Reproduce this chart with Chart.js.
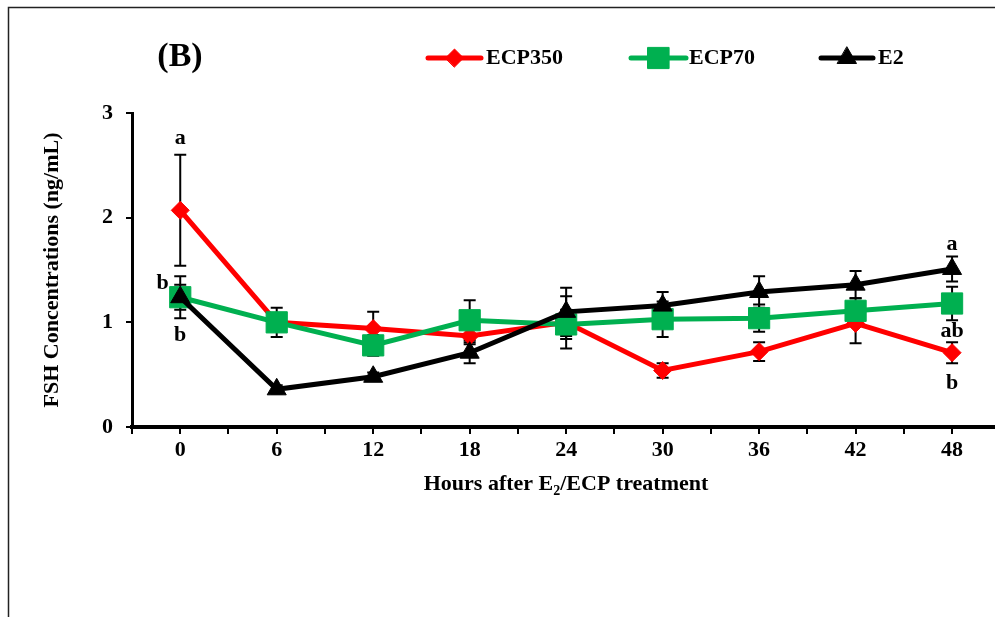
<!DOCTYPE html>
<html>
<head>
<meta charset="utf-8">
<script src="https://cdn.jsdelivr.net/npm/chart.js@4"></script>
<style>
  body { margin: 0; background: #fff; }
  #wrap { width: 995px; height: 617px; }
</style>
</head>
<body>
<div id="wrap"><canvas id="fsh-chart" width="995" height="617"></canvas></div>
<script>
// data
const hours = [0, 6, 12, 18, 24, 30, 36, 42, 48];
const xTickMarks = [-3, 0, 3, 6, 9, 12, 15, 18, 21, 24, 27, 30, 33, 36, 39, 42, 45, 48];
const yTicks = [0, 1, 2, 3];

const ecp350 = [2.07, 1.00, 0.94, 0.87, 1.00, 0.54, 0.72, 0.99, 0.71];
const ecp350Err = [0.53, 0.05, 0.16, 0.08, 0.25, 0.07, 0.09, 0.19, 0.10];
const ecp70 = [1.24, 1.00, 0.78, 1.02, 0.98, 1.03, 1.04, 1.11, 1.18];
const ecp70Err = [0.12, 0.14, 0.10, 0.19, 0.14, 0.17, 0.13, 0.12, 0.16];
const e2 = [1.24, 0.36, 0.48, 0.71, 1.10, 1.16, 1.29, 1.36, 1.51];
const e2Err = [0.20, 0.04, 0.04, 0.10, 0.23, 0.13, 0.15, 0.13, 0.12];

// significance letters
const letters = ["a", "b", "b", "a", "ab", "b"];
const letterHours = [0, -1.1, 0, 48, 48, 48];
const letterValues = [2.76, 1.37, 0.88, 1.75, 0.91, 0.42];

const FONT = '"Liberation Serif", "Times New Roman", serif';
Chart.defaults.font.family = FONT;
Chart.defaults.color = "#000";

const toPoints = (vals) => hours.map((h, i) => ({ x: h, y: vals[i] }));

const series = [
  { label: "ECP350", vals: ecp350, err: ecp350Err, color: "#FF0000", style: "rectRot", radius: 9, order: 2 },
  { label: "ECP70", vals: ecp70, err: ecp70Err, color: "#00B050", style: "rect", radius: 15, order: 1 },
  { label: "E2", vals: e2, err: e2Err, color: "#000000", style: "triangle", radius: 11, order: 0 },
];

// error bars, under the lines
const errorBars = {
  id: "errorBars",
  beforeDatasetsDraw(chart) {
    const { ctx, scales: { x, y } } = chart;
    ctx.save();
    ctx.strokeStyle = "#000";
    ctx.lineWidth = 2;
    series.forEach((s) => {
      hours.forEach((h, i) => {
        const px = x.getPixelForValue(h);
        const top = y.getPixelForValue(s.vals[i] + s.err[i]);
        const bot = y.getPixelForValue(s.vals[i] - s.err[i]);
        ctx.beginPath();
        ctx.moveTo(px, top); ctx.lineTo(px, bot);
        ctx.moveTo(px - 6, top); ctx.lineTo(px + 6, top);
        ctx.moveTo(px - 6, bot); ctx.lineTo(px + 6, bot);
        ctx.stroke();
      });
    });
    ctx.restore();
  },
};

function point(ctx, style, radius, px, py) {
  if (Chart.helpers && Chart.helpers.drawPoint) {
    Chart.helpers.drawPoint(ctx, { pointStyle: style, radius: radius, borderWidth: 1, rotation: 0 }, px, py);
  }
}

// frame, titles, legend, letters
const decorations = {
  id: "decorations",
  beforeDraw(chart) {
    const ctx = chart.ctx;
    ctx.save();
    ctx.strokeStyle = "#222";
    ctx.lineWidth = 1.5;
    ctx.strokeRect(8.5, 7.5, 1100, 700);
    ctx.restore();
  },
  afterDraw(chart) {
    const { ctx, scales: { x, y }, chartArea } = chart;
    ctx.save();
    ctx.fillStyle = "#000";

    // panel letter
    ctx.font = "bold 34px " + FONT;
    ctx.textAlign = "center";
    ctx.textBaseline = "middle";
    ctx.fillText("(B)", 180, 57);

    // legend
    const legendItems = [
      { s: series[0], x1: 428, x2: 481, tx: 486 },
      { s: series[1], x1: 631, x2: 686, tx: 689 },
      { s: series[2], x1: 821, x2: 873, tx: 878 },
    ];
    legendItems.forEach((it) => {
      ctx.strokeStyle = it.s.color;
      ctx.lineWidth = 5;
      ctx.lineCap = "round";
      ctx.beginPath();
      ctx.moveTo(it.x1, 58); ctx.lineTo(it.x2, 58);
      ctx.stroke();
      ctx.fillStyle = it.s.color;
      ctx.lineWidth = 1;
      point(ctx, it.s.style, it.s.radius, (it.x1 + it.x2) / 2, 58);
      ctx.fillStyle = "#000";
      ctx.font = "bold 22px " + FONT;
      ctx.textAlign = "left";
      ctx.textBaseline = "middle";
      ctx.fillText(it.s.label, it.tx, 58);
    });

    // y title
    ctx.save();
    ctx.translate(52, (chartArea.top + chartArea.bottom) / 2);
    ctx.rotate(-Math.PI / 2);
    ctx.font = "bold 22px " + FONT;
    ctx.textAlign = "center";
    ctx.textBaseline = "middle";
    ctx.fillText("FSH Concentrations (ng/mL)", 0, 0);
    ctx.restore();

    // x title with subscript
    const big = "bold 22px " + FONT;
    const small = "bold 14px " + FONT;
    const p1 = "Hours after E", p2 = "2", p3 = "/ECP treatment";
    ctx.font = big;
    const w1 = ctx.measureText(p1).width, w3 = ctx.measureText(p3).width;
    ctx.font = small;
    const w2 = ctx.measureText(p2).width;
    let tx = 566 - (w1 + w2 + w3) / 2;
    const base = 490;
    ctx.textAlign = "left";
    ctx.textBaseline = "alphabetic";
    ctx.font = big; ctx.fillText(p1, tx, base); tx += w1;
    ctx.font = small; ctx.fillText(p2, tx, base + 5); tx += w2;
    ctx.font = big; ctx.fillText(p3, tx, base);

    // letters
    ctx.font = "bold 22px " + FONT;
    ctx.textAlign = "center";
    ctx.textBaseline = "middle";
    letters.forEach((t, i) => {
      ctx.fillText(t, x.getPixelForValue(letterHours[i]), y.getPixelForValue(letterValues[i]));
    });
    ctx.restore();
  },
};

const chart = new Chart(document.getElementById("fsh-chart"), {
  type: "line",
  data: {
    datasets: series.map((s) => ({
      label: s.label,
      data: toPoints(s.vals),
      borderColor: s.color,
      backgroundColor: s.color,
      pointBackgroundColor: s.color,
      pointBorderColor: s.color,
      pointBorderWidth: 1,
      pointStyle: s.style,
      pointRadius: s.radius,
      borderWidth: 5,
      tension: 0,
      order: s.order,
      clip: false,
    })),
  },
  options: {
    responsive: false,
    animation: false,
    layout: { autoPadding: false, padding: { top: 113, left: 0, right: 0, bottom: 0 } },
    plugins: {
      legend: { display: false },
      tooltip: { enabled: false },
    },
    scales: {
      x: {
        type: "linear",
        min: -3,
        max: 50.67,
        afterFit: (s) => { s.height = 190; s.paddingLeft = 0; s.paddingRight = 0; },
        afterBuildTicks: (s) => { s.ticks = xTickMarks.map((v) => ({ value: v })); },
        border: { color: "#000", width: 4 },
        grid: { drawOnChartArea: false, drawTicks: true, tickLength: 7, color: "#000", lineWidth: 2 },
        ticks: {
          autoSkip: false,
          maxRotation: 0,
          padding: 3,
          color: "#000",
          font: { size: 22, weight: "bold" },
          callback: (v) => (hours.includes(v) ? String(v) : ""),
        },
      },
      y: {
        min: 0,
        max: 3,
        afterFit: (s) => { s.width = 132; s.paddingTop = 0; s.paddingBottom = 0; },
        afterBuildTicks: (s) => { s.ticks = yTicks.map((v) => ({ value: v })); },
        border: { color: "#000", width: 3 },
        grid: { drawOnChartArea: false, drawTicks: true, tickLength: 6, color: "#000", lineWidth: 2 },
        ticks: {
          padding: 13,
          color: "#000",
          font: { size: 22, weight: "bold" },
        },
      },
    },
  },
  plugins: [errorBars, decorations],
});
</script>
</body>
</html>
